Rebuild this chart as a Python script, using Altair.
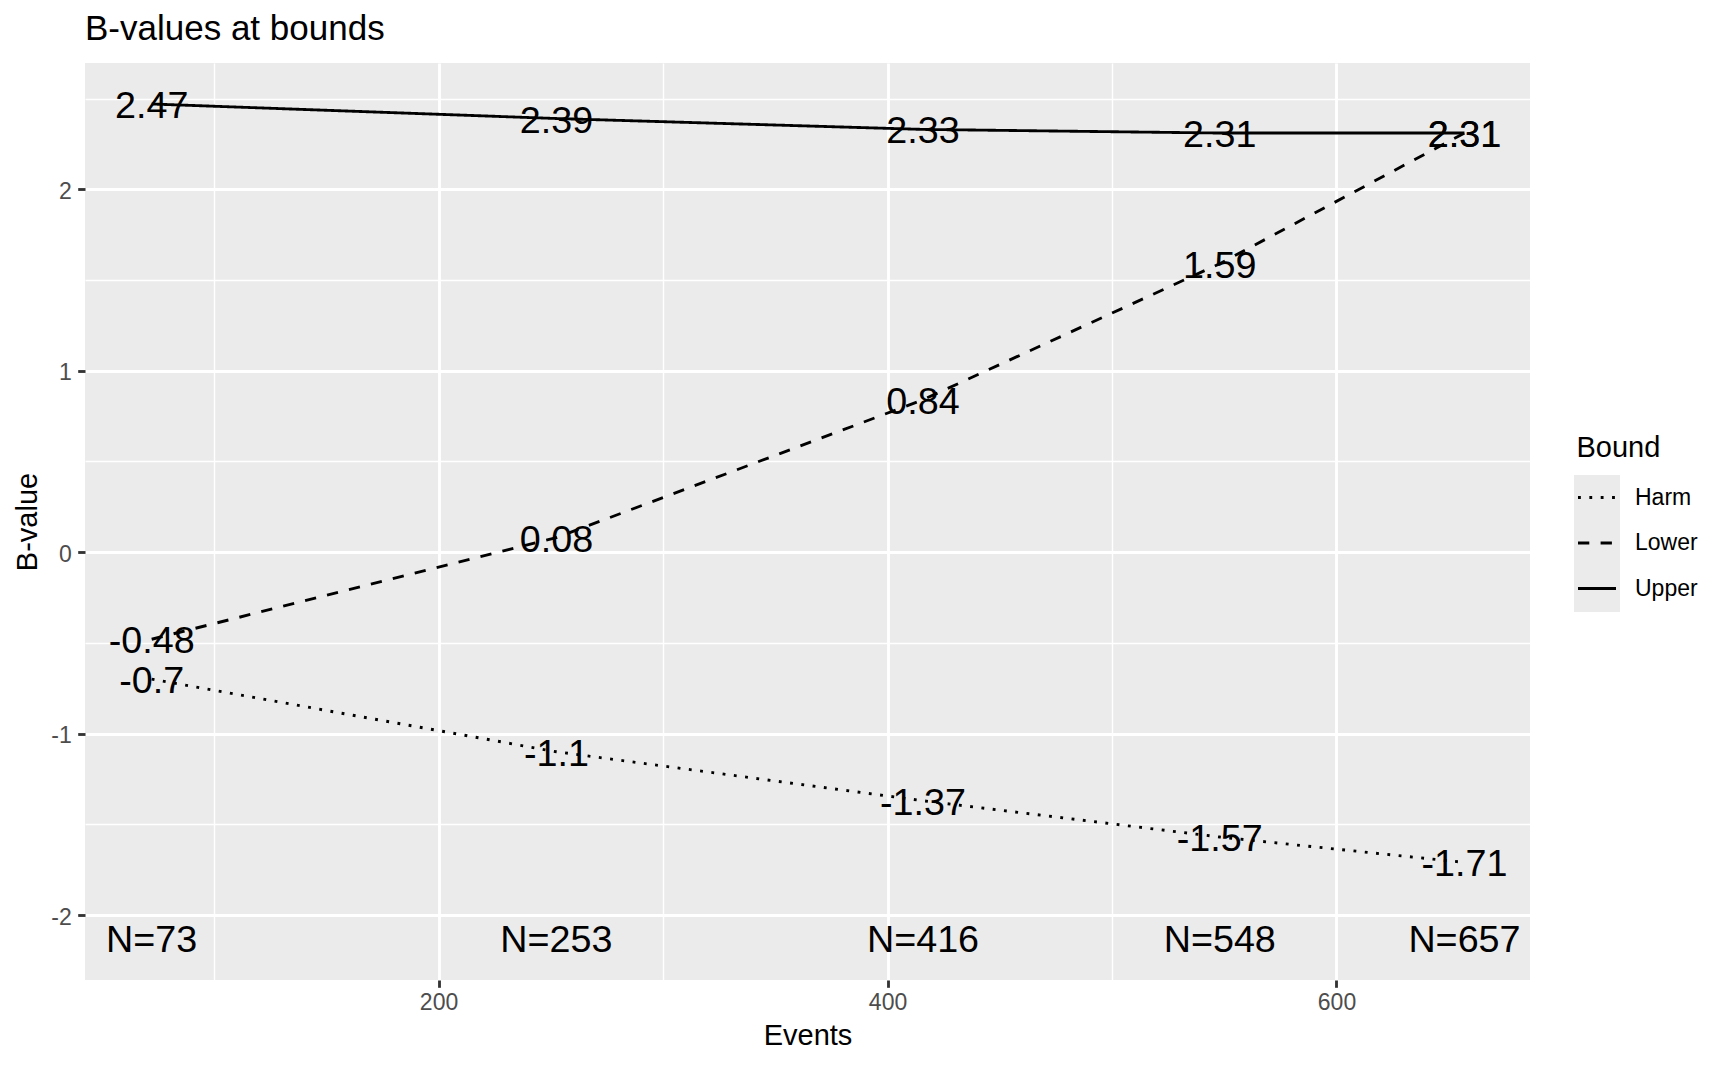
import altair as alt
import pandas as pd

# ---- data ----
events = [72.2, 252.5, 415.8, 548, 657]          # x positions of the analyses
upper = [2.47, 2.39, 2.33, 2.31, 2.31]
lower = [-0.48, 0.08, 0.84, 1.59, 2.31]
harm = [-0.7, -1.1, -1.37, -1.57, -1.71]
bound_names = ["Harm", "Lower", "Upper"]
n_labels = ["N=73", "N=253", "N=416", "N=548", "N=657"]
n_label_y = -2.125
title_text = "B-values at bounds"

x_breaks = [100, 200, 300, 400, 500, 600]
y_breaks = [-2, -1.5, -1, -0.5, 0, 0.5, 1, 1.5, 2, 2.5]

rows = []
for name, vals in [("Upper", upper), ("Lower", lower), ("Harm", harm)]:
    for e, v in zip(events, vals):
        rows.append({"Events": e, "B": v, "Bound": name, "label": f"{v:g}"})
df = pd.DataFrame(rows)
ndf = pd.DataFrame({"Events": events, "B": [n_label_y] * len(events), "label": n_labels})

FONT = "Liberation Sans"
LW = 2.85

xscale = alt.Scale(domain=[42.5, 686.2], nice=False, zero=False)
yscale = alt.Scale(domain=[-2.358, 2.696], nice=False, zero=False)

x_axis = alt.Axis(
    values=x_breaks,
    title="Events",
    domain=False,
    labelExpr="datum.value % 200 == 0 ? '' + datum.value : ''",
    labelFont=FONT, labelFontSize=23, labelColor="#4D4D4D", labelPadding=4.5,
    labelOverlap=False, labelFlush=False,
    tickColor="#333333", tickSize=7.3, tickWidth=LW,
    tickOpacity={"condition": {"test": "datum.value % 200 == 0", "value": 1}, "value": 0},
    grid=True, gridColor="white",
    gridWidth={"condition": {"test": "datum.value % 200 == 0", "value": LW}, "value": 1.42},
    titleFont=FONT, titleFontSize=29, titleColor="black", titleFontWeight="normal",
    titleBaseline="alphabetic", titleX=722.5, titleY=64,
)
y_axis = alt.Axis(
    values=y_breaks,
    title="B-value",
    domain=False,
    labelExpr="datum.value % 1 == 0 ? '' + datum.value : ''",
    labelFont=FONT, labelFontSize=23, labelColor="#4D4D4D", labelPadding=6.5,
    labelOverlap=False, labelFlush=False, labelOffset=2,
    tickColor="#333333", tickSize=7.3, tickWidth=LW,
    tickOpacity={"condition": {"test": "datum.value % 1 == 0", "value": 1}, "value": 0},
    grid=True, gridColor="white",
    gridWidth={"condition": {"test": "datum.value % 1 == 0", "value": LW}, "value": 1.42},
    titleFont=FONT, titleFontSize=29, titleColor="black", titleFontWeight="normal",
    titleBaseline="alphabetic", titleX=-49, titleY=458.5, titleAngle=270,
)

# grey background behind the legend keys (ggplot legend.key)
key_bg = alt.Chart(alt.Data(values=[{"k": 1}])).mark_rect(fill="#EBEBEB").encode(
    x=alt.value(1489), x2=alt.value(1535), y=alt.value(412), y2=alt.value(549)
)

# plot title, drawn as text above the panel
title_mark = alt.Chart(alt.Data(values=[{"t": title_text}])).mark_text(
    font=FONT, fontSize=35, color="black", align="left", baseline="alphabetic"
).encode(x=alt.value(0), y=alt.value(-23), text="t:N")

lines = alt.Chart(df).mark_line(color="black", strokeWidth=LW).encode(
    x=alt.X("Events:Q", scale=xscale, axis=x_axis),
    y=alt.Y("B:Q", scale=yscale, axis=y_axis),
    strokeDash=alt.StrokeDash(
        "Bound:N",
        scale=alt.Scale(domain=bound_names, range=[[LW, 8.5], [11.3, 11.3], [1, 0]]),
        legend=alt.Legend(
            title="Bound", orient="none", legendX=1491.5, legendY=371,
            padding=0, symbolType="stroke", symbolSize=38 * 38,
            symbolStrokeWidth=LW, symbolStrokeColor="black",
            titleFont=FONT, titleFontSize=29, titleColor="black", titleFontWeight="normal",
            titlePadding=14, labelFont=FONT, labelFontSize=23, labelColor="black",
            labelOffset=17.5, rowPadding=12.5,
        ),
    ),
)

value_text = alt.Chart(df).mark_text(
    font=FONT, fontSize=37.7, color="black", align="center", baseline="middle", dy=3
).encode(
    x=alt.X("Events:Q", scale=xscale),
    y=alt.Y("B:Q", scale=yscale),
    text="label:N",
)

n_text = alt.Chart(ndf).mark_text(
    font=FONT, fontSize=37.7, color="black", align="center", baseline="middle", dy=3
).encode(
    x=alt.X("Events:Q", scale=xscale),
    y=alt.Y("B:Q", scale=yscale),
    text="label:N",
)

chart = alt.layer(key_bg, lines, value_text, n_text, title_mark).properties(
    width=1445,
    height=917,
    autosize=alt.AutoSizeParams(type="none"),
    padding={"left": 77, "top": 55, "right": 190, "bottom": 75},
    background="white",
).configure_view(fill="#EBEBEB", strokeWidth=0)

chart.save("out.html", embed_options={"renderer": "svg", "actions": False})
